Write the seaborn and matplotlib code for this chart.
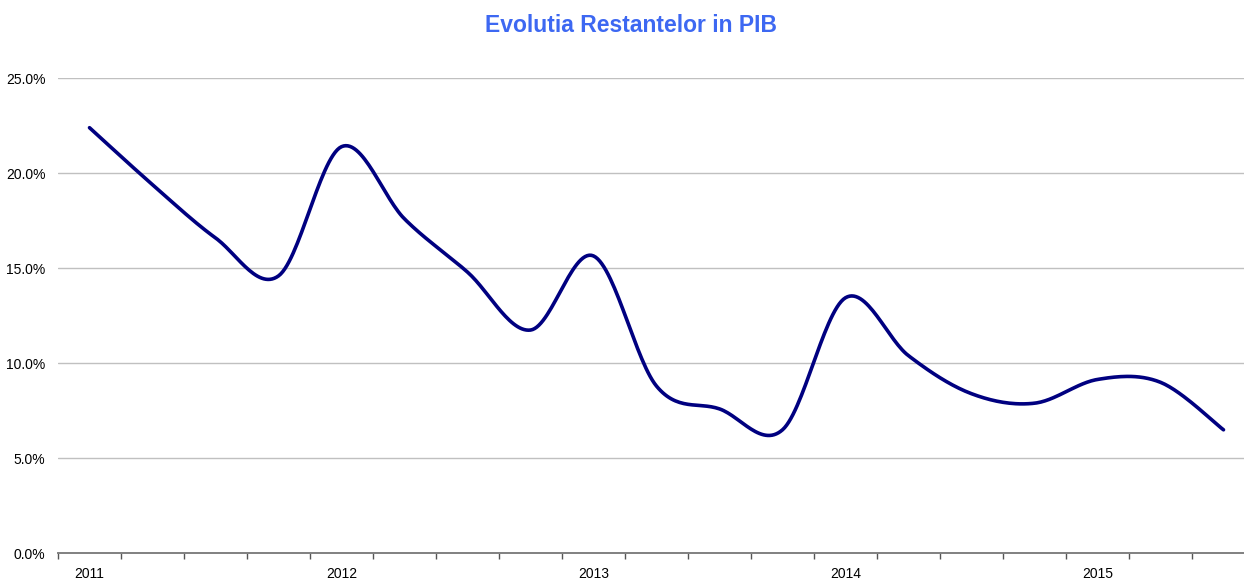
import numpy as np
import pandas as pd
import matplotlib
matplotlib.use("Agg")
import matplotlib.pyplot as plt
import seaborn as sns

# ---- data ----
quarters = ["2011Q1", "2011Q2", "2011Q3", "2011Q4",
            "2012Q1", "2012Q2", "2012Q3", "2012Q4",
            "2013Q1", "2013Q2", "2013Q3", "2013Q4",
            "2014Q1", "2014Q2", "2014Q3", "2014Q4",
            "2015Q1", "2015Q2", "2015Q3"]
values = [22.4, 19.4, 16.6, 14.6,
          21.4, 17.6, 14.8, 11.75,
          15.65, 8.8, 7.6, 6.5,
          13.45, 10.4, 8.4, 7.9,
          9.15, 9.0, 6.5]
year_labels = ["2011", "2012", "2013", "2014", "2015"]
title = "Evolutia Restantelor in PIB"


def smooth(xs, ys, n=30):
    """Catmull-Rom rendering of the line (Excel-style smoothed line)."""
    xs = np.asarray(xs, float)
    ys = np.asarray(ys, float)
    px = np.concatenate([[xs[0]], xs, [xs[-1]]])
    py = np.concatenate([[ys[0]], ys, [ys[-1]]])
    ox, oy = [], []
    for i in range(1, len(px) - 2):
        t = np.linspace(0, 1, n, endpoint=False)
        p0x, p1x, p2x, p3x = px[i - 1], px[i], px[i + 1], px[i + 2]
        p0y, p1y, p2y, p3y = py[i - 1], py[i], py[i + 1], py[i + 2]
        b1x = p1x + (p2x - p0x) / 6
        b1y = p1y + (p2y - p0y) / 6
        b2x = p2x - (p3x - p1x) / 6
        b2y = p2y - (p3y - p1y) / 6
        ox.append((1 - t) ** 3 * p1x + 3 * (1 - t) ** 2 * t * b1x + 3 * (1 - t) * t ** 2 * b2x + t ** 3 * p2x)
        oy.append((1 - t) ** 3 * p1y + 3 * (1 - t) ** 2 * t * b1y + 3 * (1 - t) * t ** 2 * b2y + t ** 3 * p2y)
    ox.append([xs[-1]])
    oy.append([ys[-1]])
    return np.concatenate(ox), np.concatenate(oy)


sns.set_theme(style="white")
plt.rcParams["font.family"] = ["Liberation Sans", "DejaVu Sans"]

fig = plt.figure(figsize=(12.44, 5.8), dpi=100)
ax = fig.add_axes([58 / 1244, 1 - 553.3 / 580, 1 - 58 / 1244, (553.3 - 78.3) / 580])

pos = np.arange(len(quarters))
sx, sy = smooth(pos, np.array(values) / 100.0)
df = pd.DataFrame({"x": sx, "y": sy})
sns.lineplot(data=df, x="x", y="y", ax=ax, color="#000080", linewidth=2.6,
             sort=False, estimator=None, solid_capstyle="round", zorder=3)

ax.set_yticks([0, 0.05, 0.10, 0.15, 0.20, 0.25])
ax.set_yticklabels(["0.0%", "5.0%", "10.0%", "15.0%", "20.0%", "25.0%"])
ax.yaxis.grid(True, color="#c0c0c0", linewidth=1.0)
ax.xaxis.grid(False)

# year labels at Q1 of each year
major = [quarters.index(y + "Q1") for y in year_labels]
ax.set_xticks(major)
ax.set_xticklabels(year_labels)
ax.set_xticks(np.arange(-0.5, len(quarters) + 0.5, 1.0), minor=True)
ax.tick_params(axis="x", which="major", bottom=True, length=0, pad=10, labelsize=10, colors="#000000")
ax.tick_params(axis="x", which="minor", bottom=True, length=4, width=1, color="#555555", direction="out")
ax.tick_params(axis="y", left=False, length=0, pad=9, labelsize=10, colors="#000000")
ax.set_xlabel("")
ax.set_ylabel("")

ax.set_ylim(0, 0.25)
ax.set_xlim(-0.5, -0.5 + (1244 - 58) / 63.0)

for s in ["top", "right", "left"]:
    ax.spines[s].set_visible(False)
ax.spines["bottom"].set_color("#808080")
ax.spines["bottom"].set_linewidth(1.4)
ax.spines["bottom"].set_zorder(4)

fig.text(631 / 1244, 1 - 26 / 580, title, ha="center", va="center",
         fontsize=16.5, fontweight="bold", color="#3d68f2",
         family=["Liberation Sans", "DejaVu Sans"])

fig.savefig("out.png", dpi=100, facecolor="white")
